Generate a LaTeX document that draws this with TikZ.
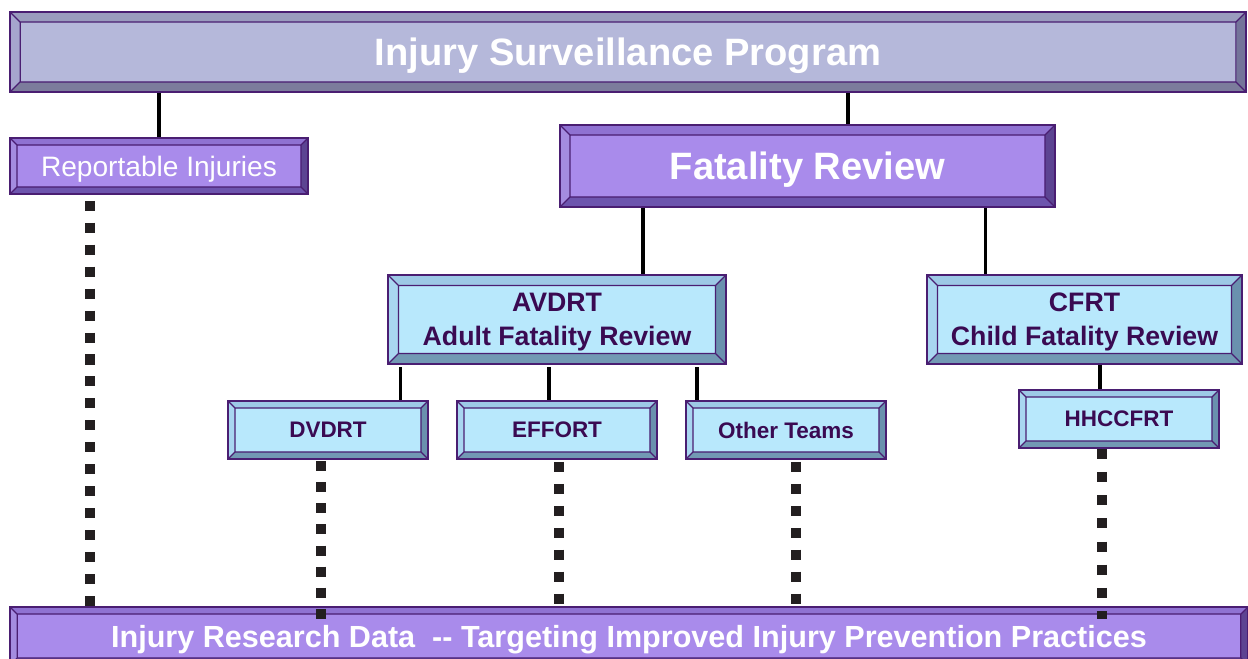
\documentclass[tikz,border=0pt]{standalone}
\usepackage{fontspec}
\setmainfont{Liberation Sans}
\usetikzlibrary{calc,positioning}

\definecolor{boxline}{HTML}{4A1E72}
\definecolor{gface}{HTML}{B5B8DA}
\definecolor{gtop}{HTML}{9A9CBE}
\definecolor{gleft}{HTML}{A6A6CE}
\definecolor{gbot}{HTML}{7C7C9C}
\definecolor{gright}{HTML}{74749A}
\definecolor{pface}{HTML}{A98BEB}
\definecolor{ptop}{HTML}{8F72D2}
\definecolor{pleft}{HTML}{A48CE0}
\definecolor{pbot}{HTML}{6D55AE}
\definecolor{pright}{HTML}{5C4492}
\definecolor{bface}{HTML}{B8E8FC}
\definecolor{btop}{HTML}{9DC9E6}
\definecolor{bleft}{HTML}{A9D6F0}
\definecolor{bbot}{HTML}{7299B4}
\definecolor{bright}{HTML}{6A91AE}
\definecolor{darktext}{HTML}{3A0A52}
\definecolor{dotcol}{HTML}{231F20}

% bevel: top, left, bottom, right colour; bevel width
\newcommand\bevelpic[5]{%
  \path (path picture bounding box.north west) coordinate (bvnw)
        (path picture bounding box.north east) coordinate (bvne)
        (path picture bounding box.south west) coordinate (bvsw)
        (path picture bounding box.south east) coordinate (bvse);
  \path ([shift={(#5,-#5)}]bvnw) coordinate (bvinw)
        ([shift={(-#5,-#5)}]bvne) coordinate (bvine)
        ([shift={(#5,#5)}]bvsw) coordinate (bvisw)
        ([shift={(-#5,#5)}]bvse) coordinate (bvise);
  \fill[#1] (bvnw) -- (bvne) -- (bvine) -- (bvinw) -- cycle;
  \fill[#2] (bvnw) -- (bvinw) -- (bvisw) -- (bvsw) -- cycle;
  \fill[#3] (bvsw) -- (bvisw) -- (bvise) -- (bvse) -- cycle;
  \fill[#4] (bvne) -- (bvse) -- (bvise) -- (bvine) -- cycle;
  \draw[boxline, line width=0.7pt] (bvinw) rectangle (bvise)
        (bvnw) -- (bvinw) (bvne) -- (bvine) (bvsw) -- (bvisw) (bvse) -- (bvise);
}

\tikzset{
  box/.style={draw=boxline, line width=0.9pt, inner sep=0pt, align=center,
    text depth=0pt},
  greybox/.style={box, fill=gface, text=white,
    path picture={\bevelpic{gtop}{gleft}{gbot}{gright}{#1}}},
  purplebox/.style={box, fill=pface, text=white,
    path picture={\bevelpic{ptop}{pleft}{pbot}{pright}{#1}}},
  bluebox/.style={box, fill=bface, text=darktext,
    path picture={\bevelpic{btop}{bleft}{bbot}{bright}{#1}}},
  link/.style={draw=black, line width=2.1pt},
  dotlink/.style={draw=dotcol, line width=5.7pt, dash pattern=on 5.7pt off 6.8pt}
}

\begin{document}
\begin{tikzpicture}[x=0.02cm, y=-0.02cm]
  \useasboundingbox (0,0) rectangle (1248,659);

  % boxes
  \node[greybox=5.7pt, minimum width=24.72cm, minimum height=1.6cm,
        font=\fontsize{21.7}{24}\selectfont\bfseries] (top) at (628,52)
        {Injury Surveillance Program};
  \node[purplebox=4pt, minimum width=5.96cm, minimum height=1.12cm,
        font=\fontsize{16}{19}\selectfont] (rep) at (159,166)
        {Reportable Injuries};
  \node[purplebox=5.7pt, minimum width=9.9cm, minimum height=1.64cm,
        font=\fontsize{21.7}{24}\selectfont\bfseries] (fat) at (807.5,166)
        {Fatality Review};
  \node[bluebox=6pt, minimum width=6.76cm, minimum height=1.78cm,
        font=\fontsize{15.2}{19.4}\selectfont\bfseries] (avdrt) at (557,319.5)
        {AVDRT\\Adult Fatality Review};
  \node[bluebox=6pt, minimum width=6.3cm, minimum height=1.78cm,
        font=\fontsize{15.2}{19.4}\selectfont\bfseries] (cfrt) at (1084.5,319.5)
        {CFRT\\Child Fatality Review};
  \node[bluebox=4pt, minimum width=4cm, minimum height=1.16cm,
        font=\fontsize{12.8}{15}\selectfont\bfseries] (dvdrt) at (328,430) {DVDRT};
  \node[bluebox=4pt, minimum width=4cm, minimum height=1.16cm,
        font=\fontsize{12.8}{15}\selectfont\bfseries] (effort) at (557,430) {EFFORT};
  \node[bluebox=4pt, minimum width=4cm, minimum height=1.16cm,
        font=\fontsize{12.8}{15}\selectfont\bfseries] (other) at (786,430) {Other Teams};
  \node[bluebox=4pt, minimum width=4cm, minimum height=1.16cm,
        font=\fontsize{12.8}{15}\selectfont\bfseries] (hhcc) at (1119,419) {HHCCFRT};
  \node[purplebox=4pt, minimum width=24.76cm, minimum height=1.16cm,
        font=\fontsize{17.4}{20}\selectfont\bfseries] (data) at (629,636)
        {Injury Research Data\ \ {-}{-} Targeting Improved Injury Prevention Practices};

  % tree links
  \coordinate (fatin) at ($(fat.north west)!0.582!(fat.north east)$);
  \coordinate (avin) at ($(avdrt.north west)!0.754!(avdrt.north east)$);
  \coordinate (cfin) at ($(cfrt.north west)!0.187!(cfrt.north east)$);
  \coordinate (dvin) at ($(dvdrt.north west)!0.86!(dvdrt.north east)$);
  \coordinate (efin) at ($(effort.north west)!0.46!(effort.north east)$);
  \coordinate (otin) at ($(other.north west)!0.06!(other.north east)$);
  \coordinate (hhin) at ($(hhcc.north west)!0.405!(hhcc.north east)$);

  \draw[link] (top.south -| rep.north) -- (rep.north);
  \draw[link] (top.south -| fatin) -- (fatin);
  \draw[link] (fat.south -| avin) -- (avin);
  \draw[link] (fat.south -| cfin) -- (cfin);
  \draw[link, shorten <=1.5pt] (avdrt.south -| dvin) -- (dvin);
  \draw[link, shorten <=1.5pt] (avdrt.south -| efin) -- (efin);
  \draw[link, shorten <=1.5pt] (avdrt.south -| otin) -- (otin);
  \draw[link] (cfrt.south -| hhin) -- (hhin);

  % dotted links to research data
  \coordinate (repout) at ($(rep.south west)!0.268!(rep.south east)$);
  \coordinate (dvout) at ($(dvdrt.south west)!0.465!(dvdrt.south east)$);
  \coordinate (efout) at ($(effort.south west)!0.51!(effort.south east)$);
  \coordinate (otout) at ($(other.south west)!0.55!(other.south east)$);
  \coordinate (hhout) at ($(hhcc.south west)!0.415!(hhcc.south east)$);

  \draw[dotlink, shorten <=3.4pt] (repout) -- (repout |- data.north);
  \draw[dotlink, dash pattern=on 5.7pt off 6.3pt, shorten <=0.8pt, shorten >=-7.5pt]
        (dvout) -- (dvout |- data.north);
  \draw[dotlink, shorten <=1.2pt] (efout) -- (efout |- data.north);
  \draw[dotlink, shorten <=1.2pt] (otout) -- (otout |- data.north);
  \draw[dotlink, dash pattern=on 5.7pt off 7.5pt, shorten >=-7.5pt]
        (hhout) -- (hhout |- data.north);
\end{tikzpicture}
\end{document}
